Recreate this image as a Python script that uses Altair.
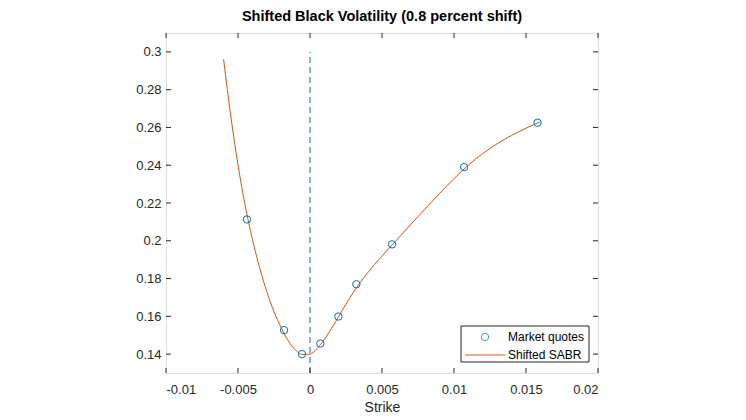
import altair as alt
import pandas as pd

# Market quotes (strike, shifted Black vol)
quote_strike = [-0.00438, -0.0018, -0.00056, 0.00072, 0.00197, 0.00322, 0.0057, 0.0107, 0.0158]
quote_vol = [0.2113, 0.1527, 0.1400, 0.1456, 0.1599, 0.1770, 0.1981, 0.2390, 0.2625]

# Shifted SABR fitted curve
curve_strike = [-0.0060, -0.0055, -0.0050, -0.0045, -0.0040, -0.0035, -0.0030, -0.0025,
                -0.0020, -0.0015, -0.0010, -0.0005, 0.0, 0.0005, 0.0010, 0.0015, 0.0020,
                0.0025, 0.0030, 0.0040, 0.0050, 0.0060, 0.0070, 0.0080, 0.0090, 0.0100,
                0.0110, 0.0120, 0.0130, 0.0140, 0.0150, 0.0160]
curve_vol = [0.2961, 0.2660, 0.2402, 0.2186, 0.2008, 0.1858, 0.1730, 0.1624,
             0.1540, 0.1469, 0.1421, 0.1398, 0.1400, 0.1430, 0.1478, 0.1537, 0.1600,
             0.1665, 0.1726, 0.1830, 0.1919, 0.2003, 0.2087, 0.2169, 0.2251, 0.2329,
             0.2401, 0.2462, 0.2514, 0.2558, 0.2596, 0.2630]

# Vertical marker at zero strike
vline_strike = [0.0, 0.0]
vline_vol = [0.13, 0.30]

x_ticks = [-0.01, -0.005, 0.0, 0.005, 0.01, 0.015, 0.02]
y_ticks = [0.14, 0.16, 0.18, 0.2, 0.22, 0.24, 0.26, 0.28, 0.3]

legend_labels = ["Market quotes", "Shifted SABR"]

BLUE = "#0072BD"
ORANGE = "#D95319"
AX = "#262626"
FONT = "Liberation Sans"
W, H = 432, 340

xs = alt.Scale(domain=[-0.01, 0.02], nice=False, zero=False)
ys = alt.Scale(domain=[0.13, 0.31], nice=False, zero=False)

x_axis = alt.Axis(values=x_ticks, labelExpr="toString(datum.value)", title="Strike",
                  domain=False, ticks=False, grid=False, labelPadding=10,
                  labelFontSize=13, titleFontSize=14, titleFontWeight="normal",
                  labelColor=AX, titleColor=AX, titlePadding=4, labelFont=FONT, titleFont=FONT)
y_axis = alt.Axis(values=y_ticks, labelExpr="toString(datum.value)", title=None,
                  domain=False, ticks=False, grid=False, labelPadding=5,
                  labelFontSize=13, labelColor=AX, labelFont=FONT)

df_q = pd.DataFrame({"strike": quote_strike, "vol": quote_vol})
df_c = pd.DataFrame({"strike": curve_strike, "vol": curve_vol})
df_v = pd.DataFrame({"strike": vline_strike, "vol": vline_vol})
df_xt = pd.DataFrame({"strike": x_ticks})
df_yt = pd.DataFrame({"vol": y_ticks})

X = alt.X("strike:Q", scale=xs, axis=x_axis)
Y = alt.Y("vol:Q", scale=ys, axis=y_axis)

vline = alt.Chart(df_v).mark_line(color=BLUE, strokeDash=[6, 4], strokeWidth=1).encode(x=X, y=Y)
curve = alt.Chart(df_c).mark_line(color=ORANGE, strokeWidth=1, interpolate="monotone").encode(x=X, y=Y)
pts = alt.Chart(df_q).mark_point(shape="circle", filled=False, color=BLUE, size=55,
                                 strokeWidth=1, opacity=1).encode(x=X, y=Y)

tick_len = 5
xt_bottom = alt.Chart(df_xt).mark_rule(color=AX, strokeWidth=1).encode(
    x=X, y=alt.value(H), y2=alt.value(H - tick_len))
xt_top = alt.Chart(df_xt).mark_rule(color=AX, strokeWidth=1).encode(
    x=X, y=alt.value(0), y2=alt.value(tick_len))
yt_left = alt.Chart(df_yt).mark_rule(color=AX, strokeWidth=1).encode(
    y=Y, x=alt.value(0), x2=alt.value(tick_len))
yt_right = alt.Chart(df_yt).mark_rule(color=AX, strokeWidth=1).encode(
    y=Y, x=alt.value(W), x2=alt.value(W - tick_len))

# Legend box (MATLAB style, bottom-right inside axes)
lx0, ly0, lx1, ly1 = 295, 293, 423, 329
leg_box = alt.Chart(pd.DataFrame({"k": [0]})).mark_rect(
    fill="white", stroke=AX, strokeWidth=1).encode(
    x=alt.value(lx0), x2=alt.value(lx1), y=alt.value(ly0), y2=alt.value(ly1))
leg_pt = alt.Chart(pd.DataFrame({"k": [0]})).mark_point(
    shape="circle", filled=False, color=BLUE, size=55, strokeWidth=1).encode(
    x=alt.value(319), y=alt.value(304))
leg_line = alt.Chart(pd.DataFrame({"k": [0]})).mark_rule(color=ORANGE, strokeWidth=1).encode(
    x=alt.value(299), x2=alt.value(339), y=alt.value(322))
leg_t1 = alt.Chart(pd.DataFrame({"k": [0]})).mark_text(
    text=legend_labels[0], align="left", baseline="middle", fontSize=12, font=FONT, color="black").encode(
    x=alt.value(342), y=alt.value(304))
leg_t2 = alt.Chart(pd.DataFrame({"k": [0]})).mark_text(
    text=legend_labels[1], align="left", baseline="middle", fontSize=12, font=FONT, color="black").encode(
    x=alt.value(342), y=alt.value(322))

chart = alt.layer(
    vline, curve, pts, xt_bottom, xt_top, yt_left, yt_right,
    leg_box, leg_pt, leg_line, leg_t1, leg_t2
).properties(
    width=W, height=H,
    title=alt.TitleParams(text="Shifted Black Volatility (0.8 percent shift)", fontSize=14.5,
                          fontWeight="bold", font=FONT, color="black", offset=8, anchor="middle"),
    padding={"left": 158, "top": 25, "right": 140, "bottom": 46},
    autosize=alt.AutoSizeParams(type="none"),
).configure_view(stroke=AX, strokeWidth=1).configure(background="white")

chart.save("out.html", embed_options={"renderer": "svg", "actions": False})
